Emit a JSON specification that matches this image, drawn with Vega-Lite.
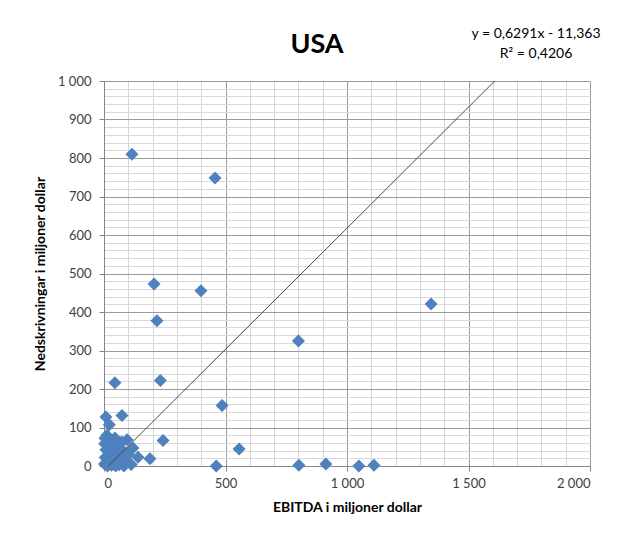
{
  "$schema": "https://vega.github.io/schema/vega-lite/v6.json",
  "width": 486,
  "height": 385,
  "autosize": {"type": "none"},
  "padding": {"left": 104, "top": 81, "right": 29, "bottom": 73},
  "background": "white",
  "config": {"view": {"stroke": null}, "font": "Lato"},
  "title": {"text": "USA", "fontSize": 27, "fontWeight": "bold", "font": "Lato", "color": "#000000", "anchor": "middle", "dx": -30, "offset": -32},
  "datasets": {
    "points": [
      {"ebitda": 115, "nedskrivning": 810},
      {"ebitda": 457, "nedskrivning": 748},
      {"ebitda": 206, "nedskrivning": 473},
      {"ebitda": 399, "nedskrivning": 455},
      {"ebitda": 218, "nedskrivning": 377},
      {"ebitda": 1346, "nedskrivning": 421},
      {"ebitda": 800, "nedskrivning": 325},
      {"ebitda": 45, "nedskrivning": 216},
      {"ebitda": 232, "nedskrivning": 222},
      {"ebitda": 486, "nedskrivning": 157},
      {"ebitda": 74, "nedskrivning": 131},
      {"ebitda": 8, "nedskrivning": 127},
      {"ebitda": 22, "nedskrivning": 107},
      {"ebitda": 243, "nedskrivning": 66},
      {"ebitda": 556, "nedskrivning": 44},
      {"ebitda": 462, "nedskrivning": 0},
      {"ebitda": 802, "nedskrivning": 2},
      {"ebitda": 913, "nedskrivning": 5},
      {"ebitda": 1049, "nedskrivning": 0},
      {"ebitda": 1111, "nedskrivning": 2},
      {"ebitda": 189, "nedskrivning": 19},
      {"ebitda": 140, "nedskrivning": 23},
      {"ebitda": 119, "nedskrivning": 47},
      {"ebitda": 95, "nedskrivning": 68},
      {"ebitda": 45, "nedskrivning": 73},
      {"ebitda": 4, "nedskrivning": 72},
      {"ebitda": 2, "nedskrivning": 5},
      {"ebitda": 5, "nedskrivning": 22},
      {"ebitda": 8, "nedskrivning": 42},
      {"ebitda": 3, "nedskrivning": 58},
      {"ebitda": 14, "nedskrivning": 0},
      {"ebitda": 16, "nedskrivning": 14},
      {"ebitda": 19, "nedskrivning": 30},
      {"ebitda": 23, "nedskrivning": 50},
      {"ebitda": 26, "nedskrivning": 8},
      {"ebitda": 29, "nedskrivning": 64},
      {"ebitda": 31, "nedskrivning": 2},
      {"ebitda": 36, "nedskrivning": 25},
      {"ebitda": 39, "nedskrivning": 44},
      {"ebitda": 42, "nedskrivning": 10},
      {"ebitda": 48, "nedskrivning": 0},
      {"ebitda": 51, "nedskrivning": 35},
      {"ebitda": 55, "nedskrivning": 17},
      {"ebitda": 58, "nedskrivning": 55},
      {"ebitda": 62, "nedskrivning": 3},
      {"ebitda": 66, "nedskrivning": 28},
      {"ebitda": 70, "nedskrivning": 9},
      {"ebitda": 73, "nedskrivning": 62},
      {"ebitda": 78, "nedskrivning": 40},
      {"ebitda": 82, "nedskrivning": 0},
      {"ebitda": 86, "nedskrivning": 15},
      {"ebitda": 100, "nedskrivning": 30},
      {"ebitda": 112, "nedskrivning": 4},
      {"ebitda": 12, "nedskrivning": 80}
    ],
    "trend": [
      {"ebitda": 0, "nedskrivning": -11.363},
      {"ebitda": 1700, "nedskrivning": 1058.107}
    ],
    "label": [
      {"text": "y = 0,6291x - 11,363\nR² = 0,4206"}
    ]
  },
  "resolve": {"axis": {"x": "independent", "y": "independent"}},
  "layer": [
    {
      "data": {"name": "points"},
      "mark": {"type": "point", "shape": "diamond", "filled": true, "color": "#4F81BD", "opacity": 1, "size": 170},
      "encoding": {
        "x": {"field": "ebitda", "type": "quantitative", "scale": {"domain": [0, 2000], "nice": false, "zero": false},
          "axis": {"orient": "bottom", "values": [0,100,200,300,400,500,600,700,800,900,1000,1100,1200,1300,1400,1500,1600,1700,1800,1900,2000], "grid": true, "gridColor": "#d4d4d4", "labels": false, "ticks": false, "domain": false, "title": null}},
        "y": {"field": "nedskrivning", "type": "quantitative", "scale": {"domain": [0, 1000], "nice": false, "zero": false},
          "axis": {"orient": "left", "values": [0,20,40,60,80,100,120,140,160,180,200,220,240,260,280,300,320,340,360,380,400,420,440,460,480,500,520,540,560,580,600,620,640,660,680,700,720,740,760,780,800,820,840,860,880,900,920,940,960,980,1000], "grid": true, "gridColor": "#d9d9d9", "labels": false, "ticks": false, "domain": false, "title": null}}
      }
    },
    {
      "data": {"name": "trend"},
      "mark": {"type": "line", "color": "#4a4a4a", "strokeWidth": 1, "clip": true},
      "encoding": {
        "x": {"field": "ebitda", "type": "quantitative",
          "axis": {"orient": "bottom", "values": [0, 500, 1000, 1500, 2000], "grid": true, "gridColor": "#9a9a9a", "domainColor": "#868686", "tickColor": "#868686", "tickSize": 5, "labelFont": "Lato", "labelFontSize": 13, "labelColor": "#404040", "labelPadding": 6, "labelExpr": "replace(format(datum.value, ','), ',', ' ')", "title": "EBITDA i miljoner dollar", "titleFont": "Lato", "titleFontSize": 14, "titleFontWeight": "bold", "titleColor": "#000000", "titlePadding": 10}},
        "y": {"field": "nedskrivning", "type": "quantitative",
          "axis": {"orient": "left", "values": [0,100,200,300,400,500,600,700,800,900,1000], "grid": true, "gridColor": "#9a9a9a", "domainColor": "#868686", "tickColor": "#868686", "tickSize": 5, "labelFont": "Lato", "labelFontSize": 13, "labelColor": "#404040", "labelPadding": 8, "labelExpr": "replace(format(datum.value, ','), ',', ' ')", "title": "Nedskrivningar i miljoner dollar", "titleFont": "Lato", "titleFontSize": 14, "titleFontWeight": "bold", "titleColor": "#000000", "titlePadding": 10}}
      }
    },
    {
      "data": {"name": "label"},
      "mark": {"type": "text", "align": "center", "baseline": "middle", "font": "Lato", "fontSize": 14, "color": "#000000", "lineBreak": "\n", "lineHeight": 20},
      "encoding": {
        "x": {"datum": 1778, "type": "quantitative", "axis": null},
        "y": {"datum": 1122, "type": "quantitative", "axis": null},
        "text": {"field": "text"}
      }
    }
  ]
}
